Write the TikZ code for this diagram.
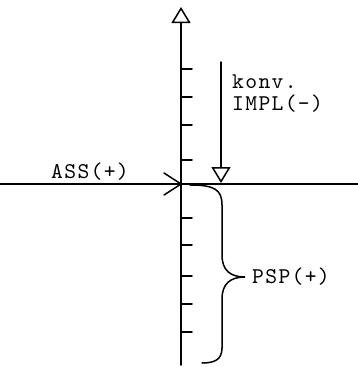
\documentclass[tikz,border=0pt]{standalone}
\usepackage{fontspec}
\newfontfamily\typew{lmmono10-regular.otf}[LetterSpace=6]
\usetikzlibrary{arrows.meta}
\tikzset{
  ln/.style={line width=1.5pt, line cap=round},
  lbl/.style={font=\typew\fontsize{22.5}{23}\selectfont, inner sep=0pt, anchor=base west},
  tri/.style={-{Triangle[open, length=16pt, width=19pt, line width=1.5pt]}},
}
\begin{document}
\begin{tikzpicture}[x=1pt,y=-1pt]
\useasboundingbox (0,0) rectangle (358,367);
% axis points
\coordinate (origin) at (181,184);
\coordinate (ytop) at (181,7);
\coordinate (ybot) at (181,365);
\coordinate (xleft) at (0,184);
\coordinate (xright) at (358,184);
\coordinate (implstart) at (221,62);
\coordinate (impltip) at (221,183);
% axes
\draw[ln, tri] (ybot) -- (ytop);
\draw[ln] (origin) -- (xright);
\draw[ln] (xleft) -- (origin);
% ASS arrow head (open)
\draw[ln] (164,173) -- (origin) -- (164,195);
% ticks
\foreach \t in {69,97,125,160,218,245,276,304,332}
  \draw[ln] (181,\t) -- (192,\t);
% IMPL arrow
\draw[ln, tri] (implstart) -- (impltip);
% brace
\coordinate (bracetip) at (245,277);
\draw[ln] (190,185) .. controls (215,185) and (222,190) .. (222,205)
  -- (222,255) .. controls (222,270) and (230,277) .. (bracetip)
  .. controls (230,277) and (222,284) .. (222,299)
  -- (222,348) .. controls (222,360) and (214,363) .. (202,363);
% labels
\node[lbl] (konv) at (232,88) {konv.};
\node[lbl] (impl) at (232,110) {IMPL(-)};
\node[lbl] (ass) at (51,178.5) {ASS(+)};
\node[lbl] (psp) at (252,283) {PSP(+)};
\end{tikzpicture}
\end{document}
